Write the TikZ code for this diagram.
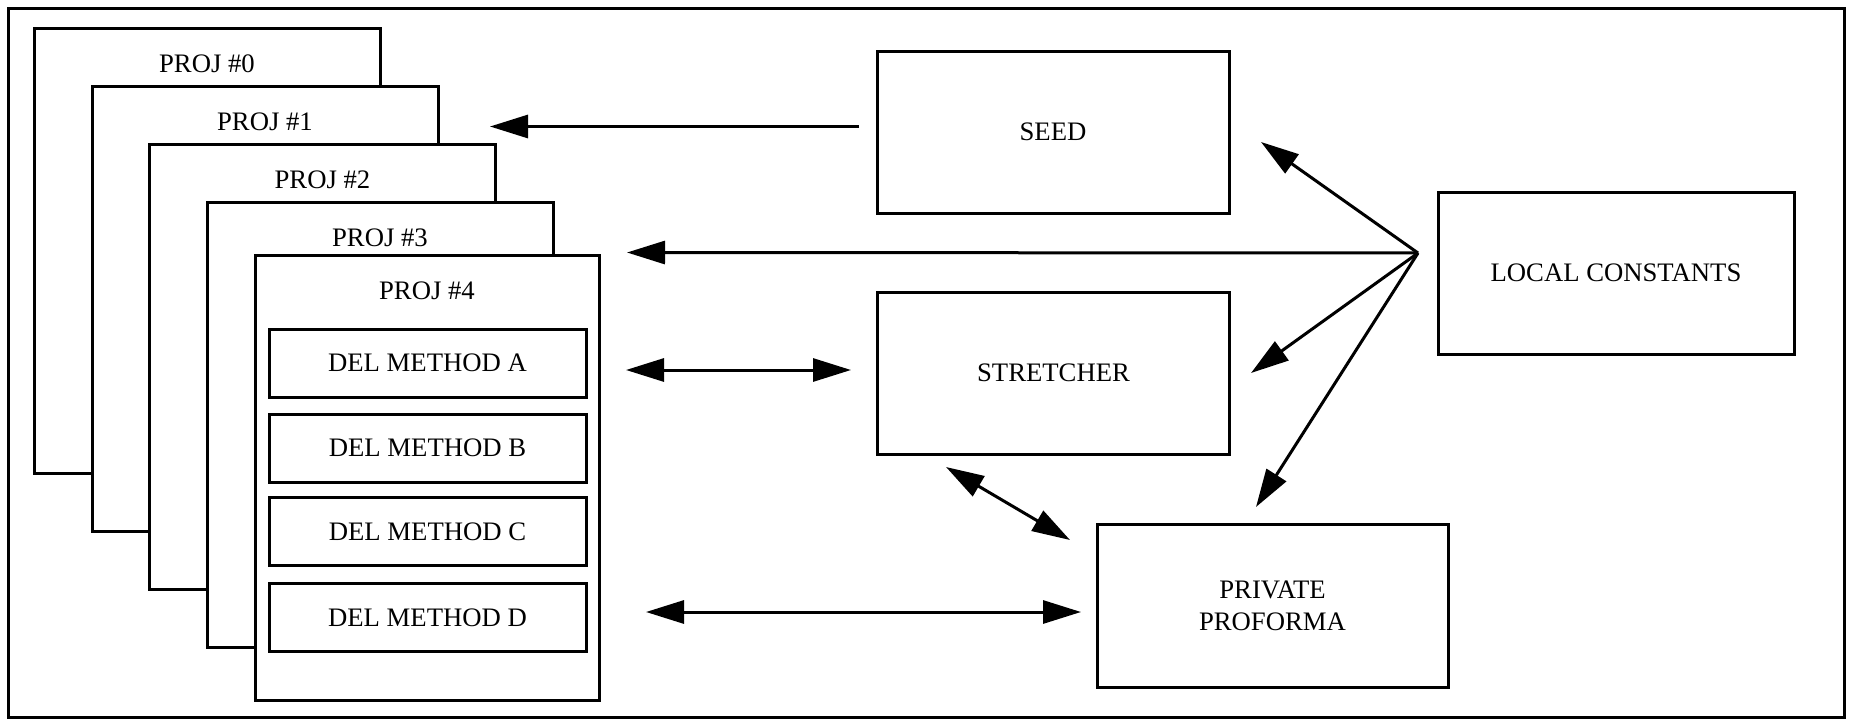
\documentclass[tikz,border=0pt]{standalone}
\usepackage{fontspec}
\setmainfont{Liberation Serif}
\usetikzlibrary{arrows.meta,calc}

\begin{document}
\begin{tikzpicture}[x=1pt,y=-1pt,
  line width=3pt,
  every node/.style={font=\fontsize{26.7}{32}\selectfont},
  box/.style={draw,fill=white,rectangle,inner sep=0pt,line width=3pt},
  projbox/.style={box,minimum width=346pt,minimum height=445pt},
  delbox/.style={box,minimum width=317pt,minimum height=68pt},
  bigbox/.style={box,minimum width=352pt,minimum height=162pt,align=center},
  link/.style={line width=3pt,-{Triangle[length=38pt,width=23pt]}},
  link2/.style={line width=3pt,{Triangle[length=38pt,width=23pt]}-{Triangle[length=38pt,width=23pt]}}
]
\useasboundingbox (0,0) rectangle (1856,720);
% outer frame
\draw[line width=3pt] (8,8) rectangle (1844,717);

% stacked project sheets
\node[projbox] (p0) at (207,250.5) {};
\node (p0t) at ($(p0.north)+(0,37)$) {PROJ \#0};
\node[projbox] (p1) at (265,309) {};
\node (p1t) at ($(p1.north)+(0,37)$) {PROJ \#1};
\node[projbox] (p2) at (322.5,367) {};
\node (p2t) at ($(p2.north)+(0,37)$) {PROJ \#2};
\node[projbox] (p3) at (380,425) {};
\node (p3t) at ($(p3.north)+(0,37)$) {PROJ \#3};
\node[projbox,minimum width=344pt] (p4) at (427,477.5) {};
\node (p4t) at ($(p4.north)+(0,37)$) {PROJ \#4};

% delivery methods inside the front sheet
\node[delbox] (da) at (427.5,363) {DEL METHOD A};
\node[delbox] (db) at (427.5,448) {DEL METHOD B};
\node[delbox] (dc) at (427.5,531.5) {DEL METHOD C};
\node[delbox] (dd) at (427.5,617.5) {DEL METHOD D};

% modules on the right
\node[bigbox] (seed) at (1053,132) {SEED};
\node[bigbox] (str) at (1053.5,373) {STRETCHER};
\node[bigbox,minimum width=356pt] (lc) at (1616,273) {LOCAL CONSTANTS};
\node[bigbox,minimum width=351pt,minimum height=163pt] (pp) at (1272.5,605.5) {PRIVATE\\PROFORMA};

% arrow end points
\coordinate (seedout) at (859,126.5);
\coordinate (p1in) at (490,126.5);
\coordinate (hub) at (1418,253);
\coordinate (p3in) at (627,252.5);
\coordinate (seedin) at (1261,142);
\coordinate (strin) at (1251,373);
\coordinate (ppin) at (1256,507);
\coordinate (daR) at (626,370);
\coordinate (strL) at (851,370);
\coordinate (strB) at (946,467);
\coordinate (ppTL) at (1070,540);
\coordinate (ddR) at (646,612);
\coordinate (ppL) at (1081,612);

% connectors
\draw[link] (seedout) -- (p1in);
\draw[link] (hub) -- (p3in);
\draw[link] (hub) -- (seedin);
\draw[link] (hub) -- (strin);
\draw[link] (hub) -- (ppin);
\draw[link2] (daR) -- (strL);
\draw[link2] (strB) -- (ppTL);
\draw[link2] (ddR) -- (ppL);
\end{tikzpicture}
\end{document}
